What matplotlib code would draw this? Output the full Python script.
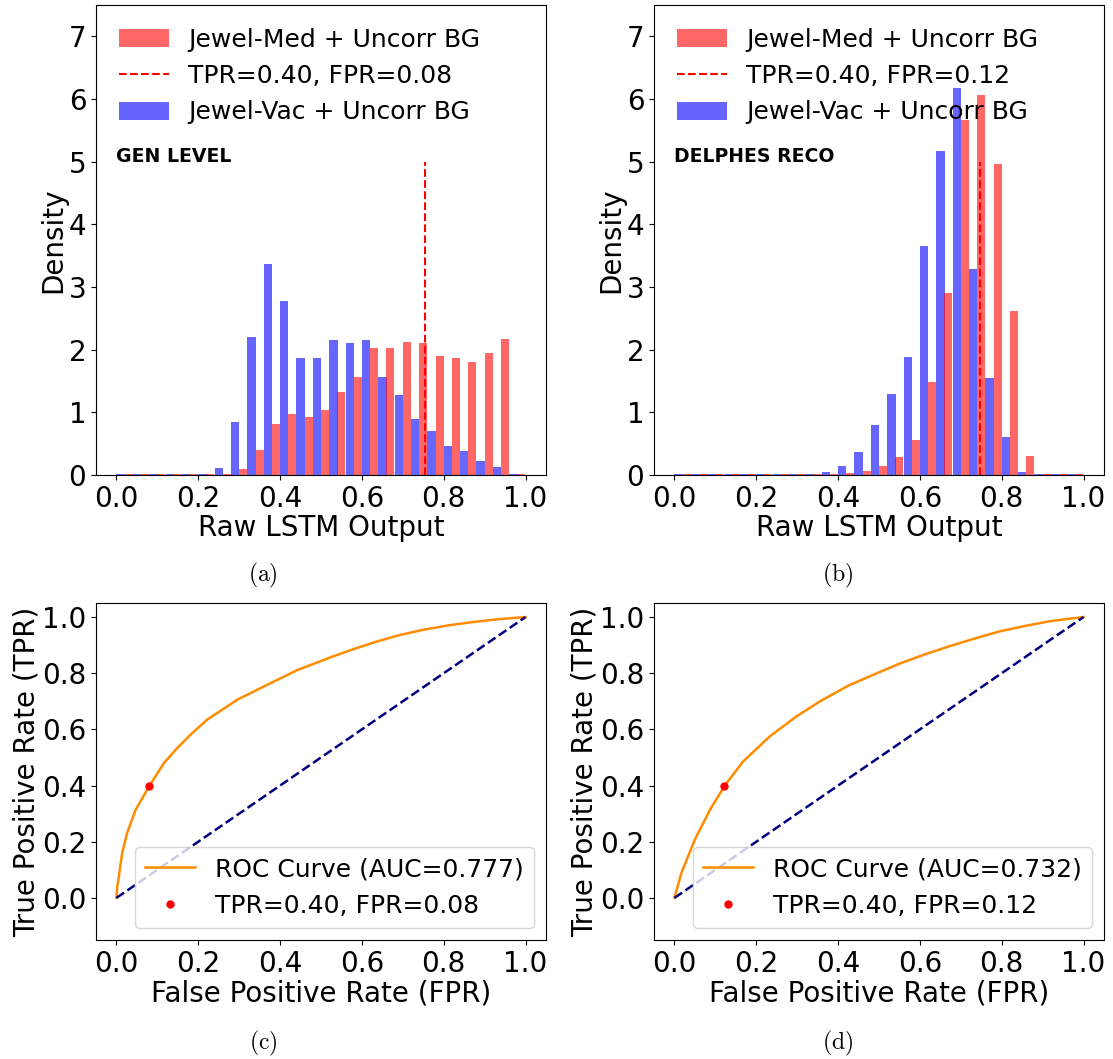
import numpy as np
import matplotlib.pyplot as plt

plt.rcParams['mathtext.fontset'] = 'cm'

# 25 bins on [0, 1]
bin_edges = np.linspace(0, 1, 26)

# GEN LEVEL densities
gen_med = [0.015, 0.015, 0.015, 0.015, 0.015, 0.015, 0.015, 0.095, 0.40, 0.81,
           0.97, 0.92, 1.03, 1.32, 1.57, 2.03, 2.02, 2.13, 2.10, 1.90,
           1.87, 1.81, 1.94, 2.17, 0.015]
gen_vac = [0.015, 0.015, 0.015, 0.015, 0.015, 0.015, 0.11, 0.84, 2.21, 3.37,
           2.78, 1.86, 1.86, 2.16, 2.11, 2.16, 1.57, 1.27, 0.89, 0.70,
           0.46, 0.38, 0.22, 0.13, 0.015]
gen_thr = 0.755

# DELPHES RECO densities
reco_med = [0.01, 0.01, 0.01, 0.01, 0.01, 0.01, 0.01, 0.01, 0.01, 0.01,
            0.03, 0.06, 0.14, 0.29, 0.56, 1.48, 2.91, 5.66, 6.07, 4.96,
            2.61, 0.30, 0.01, 0.01, 0.01]
reco_vac = [0.01, 0.01, 0.01, 0.01, 0.01, 0.01, 0.01, 0.01, 0.01, 0.04,
            0.14, 0.37, 0.79, 1.30, 1.89, 3.66, 5.17, 6.18, 3.29, 1.54,
            0.60, 0.05, 0.01, 0.01, 0.01]
reco_thr = 0.747

# ROC curves
gen_fpr = [0.0, 0.002, 0.006, 0.014, 0.026, 0.047, 0.081, 0.116, 0.149, 0.181,
           0.222, 0.296, 0.369, 0.442, 0.524, 0.58, 0.637, 0.69, 0.751, 0.81,
           0.865, 0.93, 1.0]
gen_tpr = [0.0, 0.04, 0.077, 0.160, 0.231, 0.314, 0.400, 0.480, 0.534, 0.581,
           0.635, 0.706, 0.759, 0.811, 0.857, 0.886, 0.913, 0.935, 0.955, 0.970,
           0.981, 0.992, 1.0]
reco_fpr = [0.0, 0.017, 0.050, 0.087, 0.123, 0.168, 0.233, 0.299, 0.356, 0.424,
            0.49, 0.55, 0.61, 0.672, 0.735, 0.795, 0.856, 0.917, 0.96, 1.0]
reco_tpr = [0.0, 0.089, 0.208, 0.314, 0.400, 0.486, 0.575, 0.647, 0.700, 0.755,
            0.797, 0.834, 0.866, 0.896, 0.924, 0.949, 0.968, 0.985, 0.993, 1.0]

fig = plt.figure(figsize=(11.13, 10.59), dpi=100)
W, H = 1113, 1059


def ax_at(l, r, t, b):
    return fig.add_axes([l / W, (H - b) / H, (r - l) / W, (b - t) / H])


def hist_panel(ax, med, vac, thr, fpr_txt, tag):
    left = bin_edges[:-1]
    bv = ax.bar(left, vac, width=0.0205, align='edge', color='blue', alpha=0.6,
                label='Jewel-Vac + Uncorr BG')
    bm = ax.bar(left + 0.02, med, width=0.0195, align='edge', color='red', alpha=0.6,
                label='Jewel-Med + Uncorr BG')
    ln = ax.vlines(thr, 0, 5, colors='red', linestyles='--', linewidth=1.5,
                   label='TPR=0.40, FPR=' + fpr_txt)
    ax.set_xlim(-0.05, 1.05)
    ax.set_ylim(0, 7.5)
    ax.set_yticks(range(8))
    ax.set_xticks(np.arange(0, 1.01, 0.2))
    ax.tick_params(labelsize=20)
    ax.set_xlabel('Raw LSTM Output', fontsize=20, labelpad=1)
    ax.set_ylabel('Density', fontsize=20, labelpad=1)
    ax.text(0.0, 5.0, tag, fontsize=13.6, fontweight='bold')
    ax.legend(handles=[bm, ln, bv], loc='upper left', frameon=False, fontsize=18)


def roc_panel(ax, fpr, tpr, auc, fpr_pt):
    ax.plot(fpr, tpr, color='darkorange', lw=1.8, label='ROC Curve (AUC=%s)' % auc)
    ax.plot([0, 1], [0, 1], color='navy', lw=1.8, linestyle='--')
    ax.plot([fpr_pt], [0.40], 'o', color='red', markersize=5,
            label='TPR=0.40, FPR=%.2f' % fpr_pt)
    ax.set_xlim(-0.05, 1.05)
    ax.set_ylim(-0.15, 1.05)
    ax.set_xticks(np.arange(0, 1.01, 0.2))
    ax.set_yticks(np.arange(0, 1.01, 0.2))
    ax.tick_params(labelsize=20)
    ax.set_xlabel('False Positive Rate (FPR)', fontsize=20, labelpad=1)
    ax.set_ylabel('True Positive Rate (TPR)', fontsize=20, labelpad=1)
    ax.legend(loc='lower right', fontsize=18)


ax1 = ax_at(96, 546, 5, 475)
ax2 = ax_at(654, 1104, 5, 475)
ax3 = ax_at(96, 546, 603, 940)
ax4 = ax_at(654, 1104, 603, 940)

hist_panel(ax1, gen_med, gen_vac, gen_thr, '0.08', 'GEN LEVEL')
hist_panel(ax2, reco_med, reco_vac, reco_thr, '0.12', 'DELPHES RECO')
roc_panel(ax3, gen_fpr, gen_tpr, '0.777', 0.08)
roc_panel(ax4, reco_fpr, reco_tpr, '0.732', 0.12)

for x, y, s in [(263, 575, 'a'), (838, 575, 'b'), (263, 1043, 'c'), (838, 1043, 'd')]:
    fig.text(x / W, (H - y) / H, r'$\mathrm{(%s)}$' % s, fontsize=17,
             ha='center', va='center')

fig.savefig('out.png', dpi=100)
